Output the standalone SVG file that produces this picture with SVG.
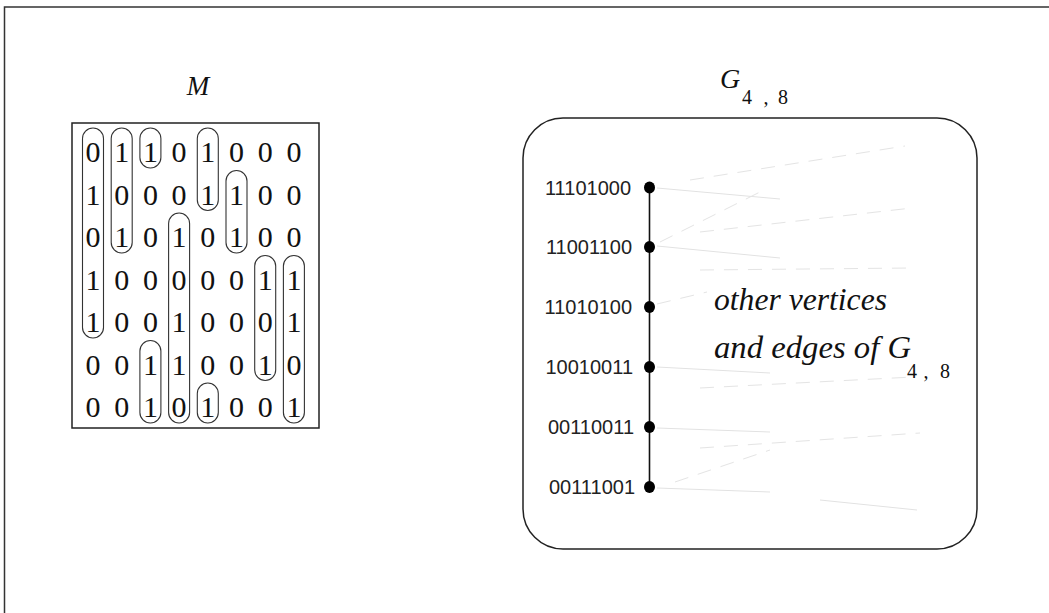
<svg xmlns="http://www.w3.org/2000/svg" width="1049" height="613" viewBox="0 0 1049 613">
<style>
.frame{fill:none;stroke:#333;stroke-width:1.5}
.box{fill:none;stroke:#222;stroke-width:1.5}
.cap{fill:none;stroke:#333;stroke-width:1.1}
.dig{font-family:"Liberation Serif","Times New Roman",serif;font-size:30px;fill:#111;text-anchor:middle}
.it{font-family:"Liberation Serif","Times New Roman",serif;font-style:italic;fill:#111}
.sub{font-family:"Liberation Serif","Times New Roman",serif;font-size:20px;fill:#111;text-anchor:middle}
.lab{font-family:"Liberation Sans",Arial,sans-serif;font-size:20px;fill:#222;text-anchor:end}
.faint{stroke:#e2e2e2;stroke-width:1;fill:none}
.faintd{stroke:#e4e4e4;stroke-width:1;fill:none;stroke-dasharray:14 10}
</style>
<rect class="frame" x="4.5" y="7" width="1100" height="700"/>

<g id="title-M"><text class="it" x="198" y="95" font-size="27" text-anchor="middle">M</text></g>
<g id="title-G"><text class="it" x="720" y="88" font-size="28">G</text><text class="sub" x="747 766 783" y="104">4,8</text></g>

<g id="matrix">
<rect class="box" x="72" y="123" width="247" height="305"/>
<text class="dig" x="93 121.7 150.4 179.1 207.8 236.5 265.2 293.9" y="162">01101000</text>
<text class="dig" x="93 121.7 150.4 179.1 207.8 236.5 265.2 293.9" y="204.5">10001100</text>
<text class="dig" x="93 121.7 150.4 179.1 207.8 236.5 265.2 293.9" y="247">01010100</text>
<text class="dig" x="93 121.7 150.4 179.1 207.8 236.5 265.2 293.9" y="289.5">10000011</text>
<text class="dig" x="93 121.7 150.4 179.1 207.8 236.5 265.2 293.9" y="332">10010001</text>
<text class="dig" x="93 121.7 150.4 179.1 207.8 236.5 265.2 293.9" y="374.5">00110010</text>
<text class="dig" x="93 121.7 150.4 179.1 207.8 236.5 265.2 293.9" y="417">00101001</text>
<rect class="cap" x="82.5" y="128" width="21" height="210" rx="10.5"/>
<rect class="cap" x="111.2" y="128" width="21" height="125" rx="10.5"/>
<rect class="cap" x="139.9" y="128" width="21" height="40" rx="10.5"/>
<rect class="cap" x="139.9" y="340.5" width="21" height="82.5" rx="10.5"/>
<rect class="cap" x="168.6" y="213" width="21" height="210" rx="10.5"/>
<rect class="cap" x="197.3" y="128" width="21" height="82.5" rx="10.5"/>
<rect class="cap" x="197.3" y="383" width="21" height="40" rx="10.5"/>
<rect class="cap" x="226" y="170.5" width="21" height="82.5" rx="10.5"/>
<rect class="cap" x="254.7" y="255.5" width="21" height="125" rx="10.5"/>
<rect class="cap" x="283.4" y="255.5" width="21" height="167.5" rx="10.5"/>
</g>

<g id="graph">
<rect class="box" x="523" y="118" width="454" height="431" rx="40"/>
<g id="faint-edges">
<line class="faint" x1="657" y1="188" x2="780" y2="199"/>
<line class="faintd" x1="690" y1="180" x2="905" y2="146"/>
<line class="faint" x1="657" y1="246" x2="780" y2="258"/>
<line class="faintd" x1="660" y1="242" x2="760" y2="192"/>
<line class="faintd" x1="700" y1="232" x2="912" y2="208"/>
<line class="faintd" x1="657" y1="304" x2="707" y2="292"/>
<line class="faintd" x1="700" y1="270" x2="912" y2="268"/>
<line class="faint" x1="657" y1="367" x2="770" y2="373"/>
<line class="faintd" x1="700" y1="388" x2="913" y2="377"/>
<line class="faint" x1="657" y1="428" x2="770" y2="432"/>
<line class="faintd" x1="700" y1="448" x2="920" y2="433"/>
<line class="faint" x1="657" y1="488" x2="770" y2="492"/>
<line class="faint" x1="820" y1="500" x2="917" y2="510"/>
<line class="faintd" x1="675" y1="482" x2="770" y2="450"/>
</g>
<g id="connectors"><line x1="649.5" y1="187" x2="649.5" y2="487" stroke="#111" stroke-width="1.6"/></g>
<g id="v1"><ellipse cx="649.5" cy="187.5" rx="5.5" ry="6" fill="#000"/><text class="lab" x="631" y="194.5">11101000</text></g>
<g id="v2"><ellipse cx="649.5" cy="247" rx="5.5" ry="6" fill="#000"/><text class="lab" x="632" y="254">11001100</text></g>
<g id="v3"><ellipse cx="649.5" cy="307" rx="5.5" ry="6" fill="#000"/><text class="lab" x="632" y="314">11010100</text></g>
<g id="v4"><ellipse cx="649.5" cy="367" rx="5.5" ry="6" fill="#000"/><text class="lab" x="633" y="374">10010011</text></g>
<g id="v5"><ellipse cx="649.5" cy="427" rx="5.5" ry="6" fill="#000"/><text class="lab" x="634" y="434">00110011</text></g>
<g id="v6"><ellipse cx="649.5" cy="487" rx="5.5" ry="6" fill="#000"/><text class="lab" x="635" y="494">00111001</text></g>
<g id="other"><text class="it" x="714" y="310" font-size="31" textLength="173" lengthAdjust="spacingAndGlyphs">other vertices</text><text class="it" x="714" y="358" font-size="31" textLength="197" lengthAdjust="spacingAndGlyphs">and edges of G</text><text class="sub" x="912 926 945" y="378">4,8</text></g>
</g>
</svg>
